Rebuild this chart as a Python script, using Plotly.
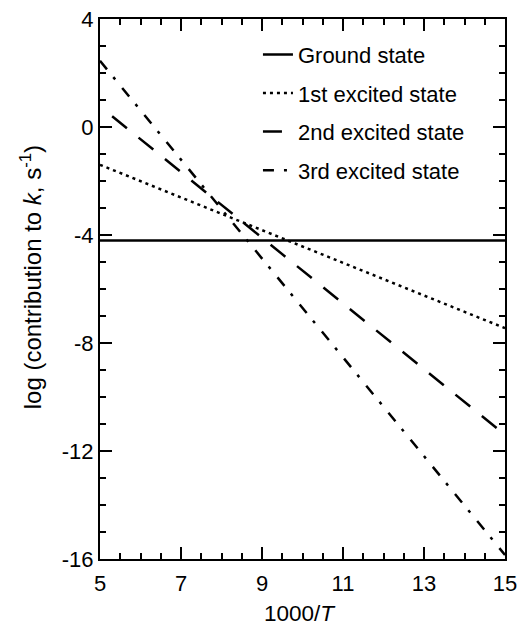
import plotly.graph_objects as go

# Data
ground_x = [5, 15]
ground_y = [-4.2, -4.2]
first_x = [5, 15]
first_y = [-1.4, -7.45]
second_x = [5.3, 15]
second_y = [0.4, -11.4]
third_x = [5, 15]
third_y = [2.45, -15.85]

x_ticks = [5, 7, 9, 11, 13, 15]
x_ticktext = ["5", "7", "9", "11", "13", "15"]
y_ticks = [4, 0, -4, -8, -12, -16]
y_ticktext = ["4", "0", "-4", "-8", "-12", "-16"]

names = ["Ground state", "1st excited state", "2nd excited state", "3rd excited state"]
FONT = "Liberation Sans, Arial, Helvetica, sans-serif"
W = 2.5

fig = go.Figure()
fig.add_trace(go.Scatter(x=ground_x, y=ground_y, mode="lines", name=names[0], legendgroup="g0",
                         line=dict(color="black", width=W, dash="solid")))
fig.add_trace(go.Scatter(x=first_x, y=first_y, mode="lines", name=names[1], legendgroup="g1",
                         line=dict(color="black", width=W, dash="3px,4px")))
fig.add_trace(go.Scatter(x=second_x, y=second_y, mode="lines", name=names[2], legendgroup="g2",
                         line=dict(color="black", width=W, dash="19px,15px")))
fig.add_trace(go.Scatter(x=third_x, y=third_y, mode="lines", name=names[3], legendgroup="g3",
                         line=dict(color="black", width=W, dash="11px,10px,3px,11px")))

axis_common = dict(showgrid=False, zeroline=False, showline=True, linecolor="black", linewidth=2,
                   mirror="allticks", ticks="inside", tickcolor="black", tickwidth=1.5,
                   automargin=False,
                   tickfont=dict(family=FONT, size=22, color="black"))

fig.update_xaxes(range=[5, 15], tickvals=x_ticks, ticktext=x_ticktext, ticklen=12,
                 ticklabelstandoff=4,
                 minor=dict(dtick=0.5, ticks="inside", ticklen=6, tickcolor="black", tickwidth=1.5),
                 **axis_common)
fig.update_yaxes(range=[-16, 4], tickvals=y_ticks, ticktext=y_ticktext, ticklen=12,
                 minor=dict(dtick=1, ticks="inside", ticklen=6, tickcolor="black", tickwidth=1.5),
                 **axis_common)

fig.add_annotation(text="log (contribution to <i>k</i>, s<sup>-1</sup>)", textangle=-90,
                   xref="paper", yref="paper", x=-0.17, y=0.522, showarrow=False,
                   xanchor="center", yanchor="middle",
                   font=dict(family=FONT, size=24, color="black"))
fig.add_annotation(text="1000/<i>T</i>", xref="paper", yref="paper", x=0.494, y=-0.1,
                   showarrow=False, xanchor="center", yanchor="middle",
                   font=dict(family=FONT, size=22.5, color="black"))

fig.update_layout(
    width=520, height=632,
    margin=dict(l=100, r=15, t=19, b=73),
    paper_bgcolor="white", plot_bgcolor="white",
    showlegend=True,
    legend=dict(x=0.39, y=0.973, xanchor="left", yanchor="top", bgcolor="rgba(0,0,0,0)",
                font=dict(family=FONT, size=22, color="black"), tracegroupgap=7,
                itemwidth=30),
)

fig.write_html("out.html")
